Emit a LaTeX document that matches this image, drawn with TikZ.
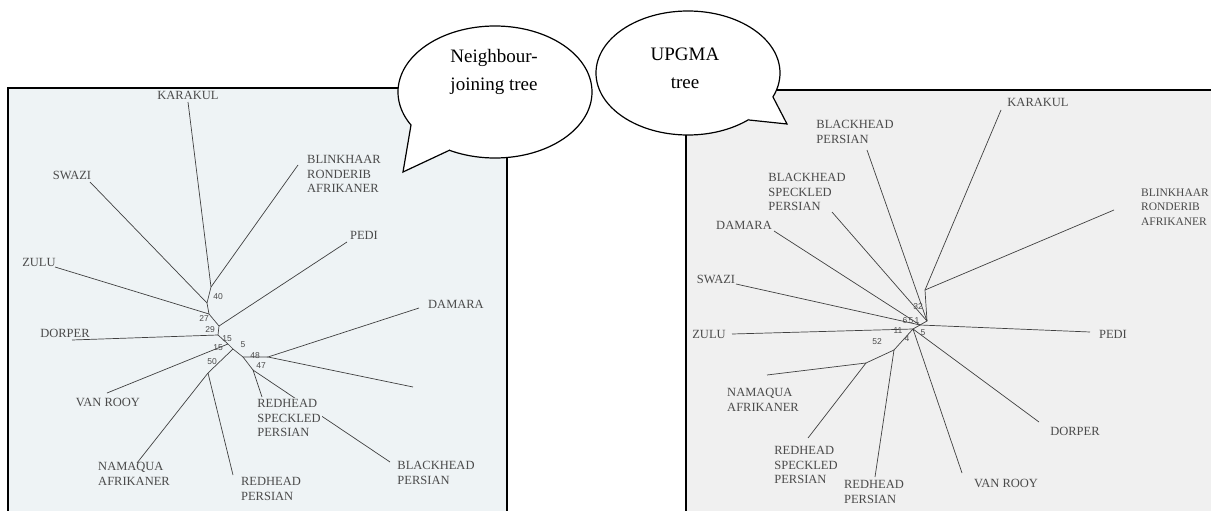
\documentclass[tikz,border=0pt]{standalone}
\usepackage{fontspec}
\setmainfont{Liberation Serif}
\newfontfamily\numfont{Liberation Sans}
\definecolor{leftbg}{HTML}{EEF3F5}
\definecolor{rightbg}{HTML}{F0F0F0}
\definecolor{ink}{HTML}{4A4A4A}

\begin{document}
\begin{tikzpicture}[x=1pt,y=-1pt,
  lbl/.style={text=ink,font=\fontsize{12.5}{14.5}\selectfont,align=left,inner sep=1pt},
  num/.style={text=ink,font=\numfont\fontsize{8.5}{9}\selectfont,inner sep=0pt},
  branch/.style={draw=black!75,line width=0.7pt},
  bubble/.style={fill=white,draw=black,line width=1.2pt},
  saytext/.style={font=\fontsize{19}{28}\selectfont,align=center}]
  \useasboundingbox (0,0) rectangle (1211,511);
  \clip (0,0) rectangle (1211,511);
  \draw[fill=leftbg,line width=1.8pt] (8,88) rectangle (507,530);
  \draw[fill=rightbg,line width=1.8pt] (686,90) rectangle (1230,530);

  % neighbour-joining tree
  \coordinate (a1) at (211,287);
  \coordinate (a2) at (207,303);
  \coordinate (a3) at (209,314);
  \coordinate (a4) at (219,326);
  \coordinate (a5) at (218,335);
  \coordinate (a6) at (228,344);
  \coordinate (a6b) at (233,349);
  \coordinate (a7) at (243,357);
  \coordinate (a8) at (268,357);
  \coordinate (a9) at (253,370);
  \coordinate (b1) at (208,373);
  \coordinate (kL) at (188,102);
  \coordinate (sL) at (90,182);
  \coordinate (bL) at (298,165);
  \coordinate (pL) at (347,242);
  \coordinate (zL) at (55,267);
  \coordinate (dL) at (72,340);
  \coordinate (vL) at (107,393);
  \coordinate (nL) at (137,463);
  \coordinate (rpL) at (233,475);
  \coordinate (daL) at (419,308);
  \coordinate (xL) at (413,387);
  \coordinate (rsL) at (262,397);
  \coordinate (bpL) at (390,462);
  \draw[branch] (kL) -- (a1) -- (a2) -- (a3) -- (a4) -- (a5) -- (a6) -- (a6b) -- (a7) -- (a8);
  \draw[branch] (bL) -- (a1);
  \draw[branch] (sL) -- (a2);
  \draw[branch] (zL) -- (a3);
  \draw[branch] (pL) -- (a4);
  \draw[branch] (dL) -- (a5);
  \draw[branch] (vL) -- (a6);
  \draw[branch] (a6b) -- (b1) -- (nL);
  \draw[branch] (b1) -- (rpL);
  \draw[branch] (daL) -- (a8) -- (xL);
  \draw[branch] (a7) -- (a9) -- (rsL);
  \draw[branch] (a9) -- (bpL);

  \node[lbl] (karakulL) at (188,95) {KARAKUL};
  \node[lbl] (swaziL) at (72,175) {SWAZI};
  \node[lbl] (blinkL) at (344,174) {BLINKHAAR\\RONDERIB\\AFRIKANER};
  \node[lbl] (pediL) at (364,235) {PEDI};
  \node[lbl] (zuluL) at (39,262) {ZULU};
  \node[lbl] (dorperL) at (65,333) {DORPER};
  \node[lbl] (vanrooyL) at (108,402) {VAN ROOY};
  \node[lbl] (namaquaL) at (134,474) {NAMAQUA\\AFRIKANER};
  \node[lbl] (redpL) at (271,489) {REDHEAD\\PERSIAN};
  \node[lbl] (damaraL) at (456,304) {DAMARA};
  \node[lbl,fill=leftbg] (redspL) at (289,418) {REDHEAD\\SPECKLED\\PERSIAN};
  \node[lbl] (blackpL) at (436,473) {BLACKHEAD\\PERSIAN};

  \node[num] (n40) at (218,297) {40};
  \node[num] (n27) at (204,319) {27};
  \node[num] (n29) at (210,330) {29};
  \node[num] (n15a) at (227,339) {15};
  \node[num] (n15b) at (218,348) {15};
  \node[num] (n5) at (243,345) {5};
  \node[num] (n48) at (255,356) {48};
  \node[num] (n47) at (261,366) {47};
  \node[num] (n50) at (212,362) {50};

  % UPGMA tree
  \coordinate (h1) at (925,290);
  \coordinate (h2) at (927,321);
  \coordinate (h3) at (920,325);
  \coordinate (h4) at (913,329);
  \coordinate (h5) at (894,350);
  \coordinate (h6) at (866,363);
  \coordinate (kR) at (1001,110);
  \coordinate (bkR) at (1114,210);
  \coordinate (bhR) at (867,150);
  \coordinate (bsR) at (832,212);
  \coordinate (daR) at (774,231);
  \coordinate (swR) at (736,284);
  \coordinate (zuR) at (732,334);
  \coordinate (peR) at (1090,332);
  \coordinate (naR) at (767,375);
  \coordinate (rsR) at (808,438);
  \coordinate (rpR) at (875,477);
  \coordinate (vrR) at (962,473);
  \coordinate (doR) at (1039,422);
  \draw[branch] (kR) -- (h1) -- (h2) -- (h3) -- (h4) -- (h5) -- (h6) -- (naR);
  \draw[branch] (bkR) -- (h1);
  \draw[branch] (bhR) -- (h2);
  \draw[branch] (bsR) -- (h2);
  \draw[branch] (daR) -- (h3);
  \draw[branch] (swR) -- (h3);
  \draw[branch] (peR) -- (h3);
  \draw[branch] (zuR) -- (h4);
  \draw[branch] (vrR) -- (h4);
  \draw[branch] (doR) -- (h4);
  \draw[branch] (rpR) -- (h5);
  \draw[branch] (rsR) -- (h6);

  \node[lbl] (karakulR) at (1038,102) {KARAKUL};
  \node[lbl] (blackpR) at (855,132) {BLACKHEAD\\PERSIAN};
  \node[lbl] (blackspR) at (807,192) {BLACKHEAD\\SPECKLED\\PERSIAN};
  \node[lbl] (damaraR) at (744,225) {DAMARA};
  \node[lbl] (swaziR) at (716,279) {SWAZI};
  \node[lbl,anchor=east,font=\fontsize{11.5}{14.5}\selectfont] (blinkR) at (1210,207) {BLINKHAAR\\RONDERIB\\AFRIKANER};
  \node[lbl] (zuluR) at (709,334) {ZULU};
  \node[lbl] (pediR) at (1113,334) {PEDI};
  \node[lbl] (namaquaR) at (763,400) {NAMAQUA\\AFRIKANER};
  \node[lbl] (redspR) at (806,465) {REDHEAD\\SPECKLED\\PERSIAN};
  \node[lbl] (redpR) at (874,492) {REDHEAD\\PERSIAN};
  \node[lbl] (vanrooyR) at (1006,483) {VAN ROOY};
  \node[lbl] (dorperR) at (1075,431) {DORPER};

  \node[num] (m32) at (918,307) {32};
  \node[num] (m6) at (905,321) {6};
  \node[num] (m5a) at (911,321) {5};
  \node[num] (m1) at (917,321) {1};
  \node[num] (m11) at (898,331) {11};
  \node[num] (m4) at (907,339) {4};
  \node[num] (m52) at (877,342) {52};
  \node[num] (m5b) at (923,333) {5};

  % speech bubbles
  \draw[bubble] (495,92) ellipse [x radius=97pt, y radius=66pt];
  \fill[white] (411,125) -- (403,172) -- (450,150) -- (460,120) -- cycle;
  \draw[line width=1.2pt] (411,125) -- (403,172) -- (450,150);
  \node[saytext] (njtext) at (494,72) {Neighbour-\\joining tree};

  \draw[bubble] (688,73) ellipse [x radius=92pt, y radius=62pt];
  \fill[white] (773,97) -- (787,124) -- (749,120) -- (740,95) -- cycle;
  \draw[line width=1.2pt] (773,97) -- (787,124) -- (749,120);
  \node[saytext] (uptext) at (685,68) {UPGMA\\tree};
\end{tikzpicture}
\end{document}
